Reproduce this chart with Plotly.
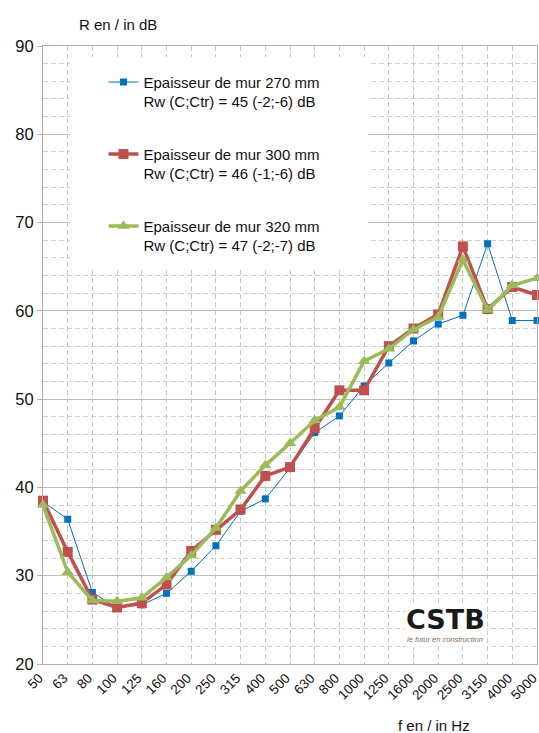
import plotly.graph_objects as go

freqs = ["50", "63", "80", "100", "125", "160", "200", "250", "315", "400", "500",
         "630", "800", "1000", "1250", "1600", "2000", "2500", "3150", "4000", "5000"]
r270 = [38.4, 36.4, 28.1, 26.4, 26.7, 28.0, 30.5, 33.4, 37.3, 38.7, 42.2,
        46.2, 48.1, 51.5, 54.1, 56.6, 58.5, 59.5, 67.6, 58.9, 58.9]
r300 = [38.5, 32.7, 27.3, 26.4, 26.9, 29.0, 32.8, 35.2, 37.5, 41.3, 42.3,
        46.7, 51.0, 51.0, 56.0, 58.0, 59.6, 67.3, 60.2, 62.7, 61.8]
r320 = [38.0, 30.4, 27.2, 27.1, 27.5, 29.8, 32.3, 35.4, 39.6, 42.5, 45.0,
        47.6, 49.1, 54.3, 55.7, 57.9, 59.3, 65.8, 60.1, 62.9, 63.7]
names = ["Epaisseur de mur 270 mm<br>Rw (C;Ctr) = 45 (-2;-6) dB",
         "Epaisseur de mur 300 mm<br>Rw (C;Ctr) = 46 (-1;-6) dB",
         "Epaisseur de mur 320 mm<br>Rw (C;Ctr) = 47 (-2;-7) dB"]

FONT = "Liberation Sans, Arial, sans-serif"

fig = go.Figure()
fig.add_trace(go.Scatter(x=freqs, y=r270, name=names[0], mode="lines+markers",
                         line=dict(color="#0070C0", width=1),
                         marker=dict(symbol="square", size=7, color="#0070C0"),
                         legendgroup="a", cliponaxis=False))
fig.add_trace(go.Scatter(x=freqs, y=r300, name=names[1], mode="lines+markers",
                         line=dict(color="#C0504D", width=3.5),
                         marker=dict(symbol="square", size=10, color="#C0504D"),
                         legendgroup="b", cliponaxis=False))
fig.add_trace(go.Scatter(x=freqs, y=r320, name=names[2], mode="lines+markers",
                         line=dict(color="#9BBB59", width=3.5),
                         marker=dict(symbol="triangle-up", size=11, color="#9BBB59"),
                         legendgroup="c", cliponaxis=False))

fig.update_layout(
    width=539, height=733,
    margin=dict(l=43, r=2, t=46, b=69, autoexpand=False),
    paper_bgcolor="white", plot_bgcolor="white",
    font=dict(family=FONT, color="#111111"),
    legend=dict(x=0.1225, y=0.968, xanchor="left", yanchor="top",
                bgcolor="rgba(255,255,255,0)", font=dict(size=15, family=FONT),
                traceorder="grouped", tracegroupgap=30, valign="top"),
    xaxis=dict(type="category", range=[0, 20], tickangle=-45, automargin=False,
               tickfont=dict(size=13.5, family=FONT), ticklabelshift=-4,
               showgrid=True, gridcolor="#C8C8C8", griddash="5px,3px", gridwidth=1,
               showline=True, linecolor="#B0B0B0", linewidth=1, mirror=True,
               ticks="", zeroline=False),
    yaxis=dict(range=[20, 90], dtick=10, automargin=False,
               tickfont=dict(size=16.5, family=FONT),
               showgrid=True, gridcolor="#BDBDBD", gridwidth=1,
               minor=dict(dtick=2, showgrid=True, gridcolor="#CFCFCF",
                          griddash="5px,3px", gridwidth=1),
               showline=True, linecolor="#B0B0B0", linewidth=1, mirror=True,
               ticks="outside", ticklen=5, tickcolor="#B0B0B0", zeroline=False),
    shapes=[
        dict(type="rect", xref="paper", yref="paper", x0=0.0547, x1=0.658,
             y0=0.641, y1=0.982, fillcolor="white", line=dict(width=0), layer="above"),
        dict(type="rect", xref="paper", yref="paper", x0=0.733, x1=0.899,
             y0=0.028, y1=0.099, fillcolor="white", line=dict(width=0), layer="above"),
    ],
    annotations=[
        dict(text="R en / in dB", xref="paper", yref="paper", x=0.069, y=1.034,
             xanchor="left", yanchor="middle", showarrow=False,
             font=dict(size=15, family=FONT, color="#111111")),
        dict(text="f en / in Hz", xref="paper", yref="paper", x=0.7915, y=-0.1003,
             xanchor="center", yanchor="middle", showarrow=False,
             font=dict(size=15, family=FONT, color="#111111")),
        dict(text="<b>CSTB</b>", xref="paper", yref="paper", x=0.8138, y=0.072,
             xanchor="center", yanchor="middle", showarrow=False,
             font=dict(size=27, family="DejaVu Sans, sans-serif", color="#1a1a1a")),
        dict(text="<i>le futur en construction</i>", xref="paper", yref="paper",
             x=0.8138, y=0.040, xanchor="center", yanchor="middle", showarrow=False,
             font=dict(size=7.5, family=FONT, color="#8B6B4F")),
    ],
)

# Remove the default page margin so the 539x733 figure fills the window exactly.
fig.write_html("out.html", config={"displayModeBar": False},
               post_script="document.body.style.margin='0';"
                           "document.body.style.overflow='hidden';")
